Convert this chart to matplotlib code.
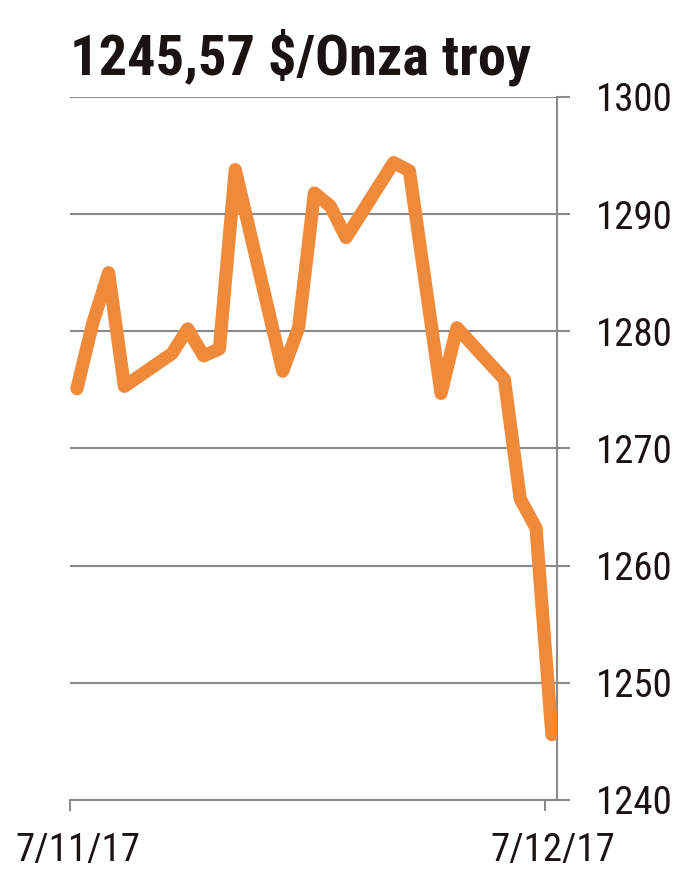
import matplotlib.pyplot as plt
import matplotlib.transforms as mtransforms
import pandas as pd

# gold price, $/troy ounce
dates = ["2017-11-07", "2017-11-08", "2017-11-09", "2017-11-10",
         "2017-11-13", "2017-11-14", "2017-11-15", "2017-11-16", "2017-11-17",
         "2017-11-20", "2017-11-21", "2017-11-22", "2017-11-23", "2017-11-24",
         "2017-11-27", "2017-11-28", "2017-11-30", "2017-12-01",
         "2017-12-04", "2017-12-05", "2017-12-06", "2017-12-07"]
prices = [1275.1, 1280.7, 1285.0, 1275.3,
          1278.1, 1280.2, 1277.9, 1278.5, 1293.8,
          1276.6, 1280.3, 1291.8, 1290.7, 1288.0,
          1294.4, 1293.7, 1274.7, 1280.3,
          1275.9, 1265.7, 1263.2, 1245.57]
y_ticks = [1240, 1250, 1260, 1270, 1280, 1290, 1300]
x_ticks = ["2017-11-07", "2017-12-07"]
x_labels = ["7/11/17", "7/12/17"]
title = "1245,57 $/Onza troy"

plt.rcParams['font.family'] = ['Roboto Condensed', 'DejaVu Sans']

x = pd.to_datetime(dates) + pd.Timedelta(hours=10.5)

fig = plt.figure(figsize=(7, 8.93), dpi=100)
ax = fig.add_axes([0.1, 0.1042, 0.6957, 0.7872])

grey = "#8a8a8a"
ax.plot(x, prices, color="#ef8a3b", lw=9.5, solid_joinstyle="round",
        solid_capstyle="round", zorder=3)

ax.set_ylim(1240, 1300)
ax.set_xlim(pd.Timestamp("2017-11-07"), pd.Timestamp("2017-11-07") + pd.Timedelta(days=30.76))

ax.yaxis.tick_right()
ax.set_yticks(y_ticks)
ax.set_yticklabels([str(v) for v in y_ticks], fontsize=28, color="#1a1311")
ax.tick_params(axis="y", length=9, width=1.5, color=grey, pad=19)
ax.grid(axis="y", color=grey, lw=1.5)
ax.set_axisbelow(True)

ax.set_xticks(pd.to_datetime(x_ticks))
ax.set_xticklabels(x_labels, fontsize=28, color="#1a1311")
ax.tick_params(axis="x", length=8, width=1.5, color=grey, pad=15)
shift = mtransforms.ScaledTranslation(8 / 100, 0, fig.dpi_scale_trans)
for lbl in ax.get_xticklabels():
    lbl.set_transform(lbl.get_transform() + shift)

for s in ["top", "left"]:
    ax.spines[s].set_visible(False)
for s in ["right", "bottom"]:
    ax.spines[s].set_color(grey)
    ax.spines[s].set_linewidth(1.5)

fig.text(0.1, 1 - 75 / 893, title, fontsize=40.5, fontweight="bold",
         va="baseline", ha="left", color="#1a1311")

fig.savefig("out.png", dpi=100)
